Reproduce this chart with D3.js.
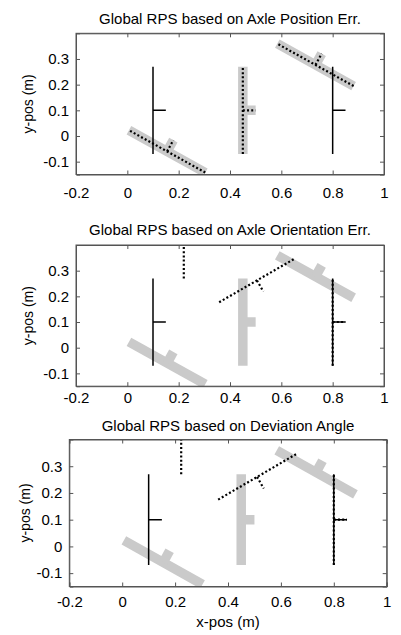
<!DOCTYPE html>
<meta charset="utf-8">
<script src="https://d3js.org/d3.v7.min.js"></script>
<style>
  body { margin: 0; background: #fff; }
  text { font-family: "Liberation Sans", Arial, sans-serif; fill: #000; }
</style>
<div id="chart"></div>
<script>
// ---- data ----
const titles = [
  "Global RPS based on Axle Position Err.",
  "Global RPS based on Axle Orientation Err.",
  "Global RPS based on Deviation Angle"
]
const xTicks = [-0.2, 0, 0.2, 0.4, 0.6, 0.8, 1]
const yTicks = [-0.1, 0, 0.1, 0.2, 0.3]
const xLabels = ["-0.2", "0", "0.2", "0.4", "0.6", "0.8", "1"]
const yLabels = ["-0.1", "0", "0.1", "0.2", "0.3"]

// T shaped vehicles: [x, y, heading in degrees]
const axleLength = 0.34
const stubLength = 0.05
const truePoses = [[0.1, 0.1, 0], [0.8, 0.1, 0]]
const grayPoses1 = [[0.45, 0.1, 0], [0.155, -0.06, 61], [0.733, 0.277, 61]]
const dotPoses1 = [[0.45, 0.1, 0], [0.155, -0.06, 61], [0.733, 0.277, 61]]
const grayPoses2 = [[0.45, 0.1, 0], [0.155, -0.06, 61], [0.733, 0.277, 61]]
const dotPoses2 = [[0.8, 0.1, 0], [0.22, 0.44, 0], [0.505, 0.262, -60]]
const grayPoses3 = [[0.45, 0.1, 0], [0.155, -0.06, 61], [0.733, 0.277, 61]]
const dotPoses3 = [[0.8, 0.1, 0], [0.223, 0.44, 0], [0.51, 0.26, -60]]

const grayList = [grayPoses1, grayPoses2, grayPoses3]
const dotList = [dotPoses1, dotPoses2, dotPoses3]

// pixel boxes of the three axes
const boxes = [
  {left: 76, right: 384, top: 33.3, bottom: 174.5, titleY: 23.5, tickY: 198, labelX: 33},
  {left: 76, right: 384, top: 245, bottom: 386.2, titleY: 234.5, tickY: 403, labelX: 33},
  {left: 69.3, right: 386.7, top: 439.5, bottom: 586.5, titleY: 431, tickY: 607, labelX: 30}
]

const svg = d3.select("#chart")
  .append("svg")
  .attr("width", 401)
  .attr("height", 635)

// turn a pose into the segments of its T
function tSegments(p) {
  const a = p[2] * Math.PI / 180
  const ax = -Math.sin(a), ay = Math.cos(a)
  const h = axleLength / 2
  return [
    [[p[0] - ax * h, p[1] - ay * h], [p[0] + ax * h, p[1] + ay * h]],
    [[p[0], p[1]], [p[0] + Math.cos(a) * stubLength, p[1] + Math.sin(a) * stubLength]]
  ]
}

boxes.forEach(function(b, i) {
  const x = d3.scaleLinear().domain([-0.2, 1]).range([b.left, b.right])
  const y = d3.scaleLinear().domain([-0.15, 0.4]).range([b.bottom, b.top])
  const g = svg.append("g")

  g.append("clipPath").attr("id", "clip" + i)
    .append("rect")
    .attr("x", b.left).attr("y", b.top)
    .attr("width", b.right - b.left).attr("height", b.bottom - b.top)

  const plot = g.append("g").attr("clip-path", `url(#clip${i})`)
  const line = d3.line().x(d => x(d[0])).y(d => y(d[1]))

  // gray estimates
  plot.append("g").selectAll("path")
    .data(grayList[i].flatMap(tSegments))
    .join("path")
    .attr("d", line)
    .attr("stroke", "#cacaca")
    .attr("stroke-width", 9.5)
    .attr("fill", "none")

  // true position (black solid)
  plot.append("g").selectAll("path")
    .data(truePoses.flatMap(tSegments))
    .join("path")
    .attr("d", line)
    .attr("stroke", "#000")
    .attr("stroke-width", 1.5)
    .attr("fill", "none")

  // dotted estimates
  plot.append("g").selectAll("path")
    .data(dotList[i].flatMap(tSegments))
    .join("path")
    .attr("d", line)
    .attr("stroke", "#000")
    .attr("stroke-width", 2.2)
    .attr("stroke-dasharray", "2,2.2")
    .attr("fill", "none")

  // axes, MATLAB style ticks inside on all four sides
  const tl = 4
  g.append("g").attr("class", "xb").attr("transform", `translate(0,${b.bottom})`)
    .call(d3.axisBottom(x).tickValues(xTicks).tickSize(-tl).tickFormat((d, k) => xLabels[k]))
  g.append("g").attr("transform", `translate(0,${b.top})`)
    .call(d3.axisTop(x).tickValues(xTicks).tickSize(-tl).tickFormat(""))
  g.append("g").attr("class", "yl").attr("transform", `translate(${b.left},0)`)
    .call(d3.axisLeft(y).tickValues(yTicks).tickSize(-tl).tickFormat((d, k) => yLabels[k]))
  g.append("g").attr("transform", `translate(${b.right},0)`)
    .call(d3.axisRight(y).tickValues(yTicks).tickSize(-tl).tickFormat(""))

  g.selectAll(".domain").attr("stroke", "#555")
  g.selectAll(".tick line").attr("stroke", "#555")
  g.selectAll(".tick text").style("font-size", "15px").style("font-family", "Liberation Sans, Arial, sans-serif")
  g.selectAll(".xb .tick text")
    .attr("y", b.tickY - b.bottom).attr("dy", null)
  g.selectAll(".yl .tick text").attr("x", -7)

  g.append("rect")
    .attr("x", b.left).attr("y", b.top)
    .attr("width", b.right - b.left).attr("height", b.bottom - b.top)
    .attr("fill", "none").attr("stroke", "#555")

  g.append("text")
    .attr("x", (b.left + b.right) / 2)
    .attr("y", b.titleY)
    .attr("text-anchor", "middle")
    .style("font-size", "15px")
    .text(titles[i])

  g.append("text")
    .attr("transform", `translate(${b.labelX},${(b.top + b.bottom) / 2}) rotate(-90)`)
    .attr("text-anchor", "middle")
    .style("font-size", "14px")
    .text("y-pos (m)")
})

svg.append("text")
  .attr("x", (boxes[2].left + boxes[2].right) / 2)
  .attr("y", 627)
  .attr("text-anchor", "middle")
  .style("font-size", "15px")
  .text("x-pos (m)")
</script>
